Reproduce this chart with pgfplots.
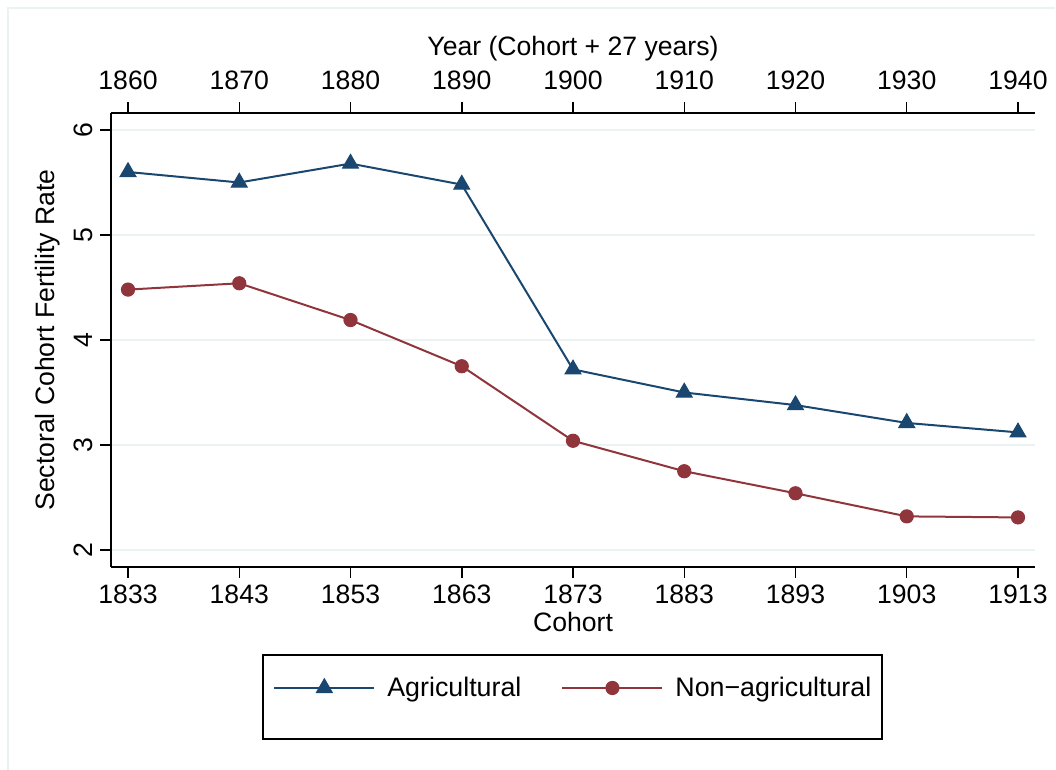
\documentclass[border=0pt]{standalone}
\usepackage{fontspec}
\setmainfont{Liberation Sans}
\usepackage{pgfplots}
\pgfplotsset{compat=1.18}
\definecolor{snavy}{RGB}{26,71,111}
\definecolor{smaroon}{RGB}{144,53,59}
\definecolor{sgrid}{RGB}{234,242,243}

\begin{document}
\begin{tikzpicture}
\useasboundingbox (-55.5pt,-101.5pt) rectangle (472.5pt,283.5pt);
\draw[sgrid, line width=1pt] (-51.5pt,-101.5pt) -- (-51.5pt,279.5pt) -- (472pt,279.5pt);
\pgfplotsset{every axis/.append style={
  scale only axis, width=462pt, height=227pt,
  font=\fontsize{13.3}{15}\selectfont,
  /pgf/number format/assume math mode=true,
  /pgf/number format/1000 sep={},
  tick style={black, line width=0.75pt},
  major tick length=5.5pt, tick align=outside,
  axis line style={-, black, line width=0.75pt},
}}
\begin{axis}[
  at={(0pt,0pt)}, anchor=south west,
  xmin=1831.47, xmax=1914.53, ymin=1.838, ymax=6.162,
  axis x line*=bottom, axis y line*=left,
  xtick={1833,1843,1853,1863,1873,1883,1893,1903,1913},
  ytick={2,3,4,5,6},
  ymajorgrids, grid style={sgrid, line width=1pt},
  xlabel={Cohort}, ylabel={Sectoral Cohort Fertility Rate},
  xlabel style={yshift=2.5pt},
  yticklabel style={rotate=90, anchor=south},
  legend columns=2,
  legend style={at={(0.1688,-0.2665)}, anchor=west, draw=none, fill=none,
    /tikz/every odd column/.append style={column sep=4pt},
    /tikz/every even column/.append style={column sep=18pt},
    font=\fontsize{13.4}{15}\selectfont},
  legend image code/.code={\draw[mark repeat=2,mark phase=2] plot coordinates {(0pt,0pt) (25pt,0pt) (50pt,0pt)};},
]
\addplot[snavy, line width=1pt, mark=triangle*, mark size=4.6pt, mark options={fill=snavy, line width=0.5pt}] coordinates {
(1833,5.60) (1843,5.50) (1853,5.68) (1863,5.48) (1873,3.72) (1883,3.50) (1893,3.38) (1903,3.21) (1913,3.12)};
\addlegendentry{Agricultural}
\addplot[smaroon, line width=1pt, mark=*, mark size=3.3pt, mark options={fill=smaroon, line width=0.5pt}] coordinates {
(1833,4.48) (1843,4.54) (1853,4.19) (1863,3.75) (1873,3.04) (1883,2.75) (1893,2.54) (1903,2.32) (1913,2.31)};
\addlegendentry{Non\textminus agricultural}
\end{axis}
\begin{axis}[
  at={(0pt,0pt)}, anchor=south west,
  xmin=1858.47, xmax=1941.53, ymin=1.838, ymax=6.162,
  axis x line*=top, axis y line=none,
  xtick={1860,1870,1880,1890,1900,1910,1920,1930,1940},
  xticklabel style={yshift=2.5pt},
  xlabel style={yshift=-2pt},
  xlabel={Year (Cohort + 27 years)},
]
\end{axis}
\draw[black, line width=0.75pt] (76pt,-44pt) rectangle (385.5pt,-86pt);
\end{tikzpicture}
\end{document}
